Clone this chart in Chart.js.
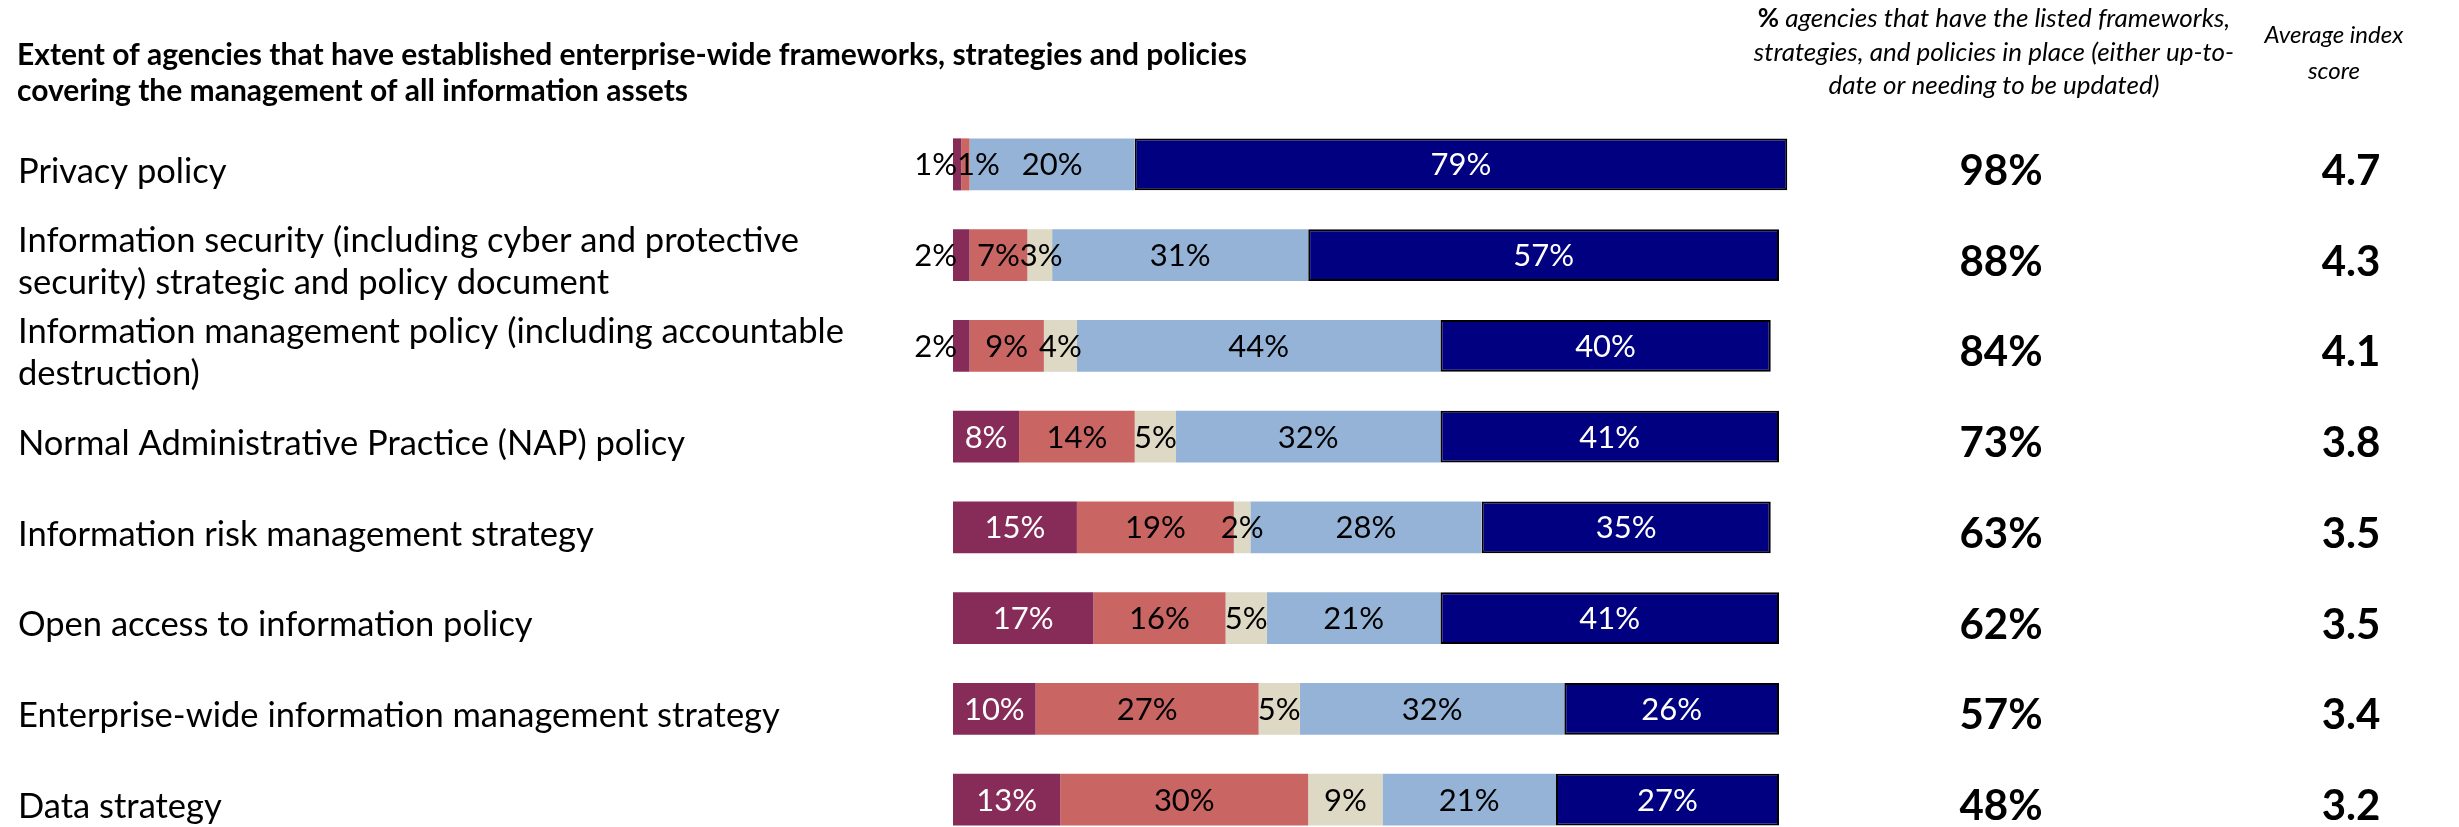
<!DOCTYPE html>
<html>
<head>
<meta charset="utf-8">
<script src="https://cdn.jsdelivr.net/npm/chart.js@4/dist/chart.umd.min.js"></script>
<style>
  html, body { margin: 0; padding: 0; background: #ffffff; overflow: hidden; }
  #wrap { position: relative; width: 2459px; height: 827px; overflow: hidden; }
  #c { position: absolute; left: 0; top: 0; }
</style>
</head>
<body>
<div id="wrap"><canvas id="c" width="2459" height="870"></canvas></div>
<script>
// Framework / policy categories, top to bottom
const categories = [
  'Privacy policy',
  ['Information security (including cyber and protective', 'security) strategic and policy document'],
  ['Information management policy (including accountable', 'destruction)'],
  'Normal Administrative Practice (NAP) policy',
  'Information risk management strategy',
  'Open access to information policy',
  'Enterprise-wide information management strategy',
  'Data strategy'
];

// Share of agencies at each maturity level (%)
const level1 = [1, 2, 2, 8, 15, 17, 10, 13];
const level2 = [1, 7, 9, 14, 19, 16, 27, 30];
const level3 = [0, 3, 4, 5, 2, 5, 5, 9];
const level4 = [20, 31, 44, 32, 28, 21, 32, 21];
const level5 = [79, 57, 40, 41, 35, 41, 26, 27];

// Summary columns
const inPlacePct = [98, 88, 84, 73, 63, 62, 57, 48];
const indexScore = [4.7, 4.3, 4.1, 3.8, 3.5, 3.5, 3.4, 3.2];

const titleLines = [
  'Extent of agencies that have established enterprise-wide frameworks, strategies and policies',
  'covering the management of all information assets'
];
const inPlaceHeader = [
  ['%', ' agencies that have the listed frameworks,'],
  ['', 'strategies, and policies in place (either up-to-'],
  ['', 'date or needing to be updated)']
];
const scoreHeader = ['Average index', 'score'];

const levelColors = ['#872B58', '#C96663', '#DDD9C4', '#95B3D7', '#000080'];
const labelColors = ['#FFFFFF', '#000000', '#000000', '#000000', '#FFFFFF'];
const FONT = 'Lato, "Open Sans", sans-serif';
const ROW_TEXT_SHIFT = 7;

// Percentage labels inside each bar segment
const segmentLabels = {
  id: 'segmentLabels',
  afterDatasetsDraw(chart) {
    const ctx = chart.ctx;
    ctx.save();
    ctx.font = '31px ' + FONT;
    ctx.textBaseline = 'middle';
    ctx.textAlign = 'center';
    for (let i = 0; i < categories.length; i++) {
      let prevRight = -Infinity;
      chart.data.datasets.forEach((ds, d) => {
        const v = ds.data[i];
        if (!v) return;
        const el = chart.getDatasetMeta(d).data[i];
        const left = Math.min(el.base, el.x);
        const right = Math.max(el.base, el.x);
        const txt = v + '%';
        const w = ctx.measureText(txt).width;
        const fits = w <= right - left;
        let cx = (left + right) / 2;
        // a label wider than the first segment hangs off the bar's left end
        if (!fits && d === 0) cx = left - w / 2 + 4;
        if (cx - w / 2 < prevRight) cx = prevRight + w / 2;
        ctx.fillStyle = fits ? labelColors[d] : '#000000';
        ctx.fillText(txt, cx, el.y + 1);
        prevRight = cx + w / 2;
      });
    }
    ctx.restore();
  }
};

// Title, summary headers and summary values
const sideText = {
  id: 'sideText',
  afterDraw(chart) {
    const ctx = chart.ctx;
    const y = chart.scales.y;
    ctx.save();
    ctx.fillStyle = '#000000';
    ctx.textBaseline = 'middle';

    ctx.font = 'bold 30px ' + FONT;
    ctx.textAlign = 'left';
    titleLines.forEach((t, k) => ctx.fillText(t, 17, 55 + k * 36));

    // centred header built from a bold part and an italic part
    const boldF = 'bold 26px ' + FONT, italF = 'italic 26px ' + FONT;
    inPlaceHeader.forEach((parts, k) => {
      ctx.font = boldF; const wb = ctx.measureText(parts[0]).width;
      ctx.font = italF; const wi = ctx.measureText(parts[1]).width;
      const x = 1994 - (wb + wi) / 2;
      ctx.textAlign = 'left';
      ctx.font = boldF; ctx.fillText(parts[0], x, 19 + k * 33.5);
      ctx.font = italF; ctx.fillText(parts[1], x + wb, 19 + k * 33.5);
    });
    ctx.textAlign = 'center';
    ctx.font = 'italic 24px ' + FONT;
    scoreHeader.forEach((t, k) => ctx.fillText(t, 2334, 35 + k * 36));

    ctx.font = 'bold 42px ' + FONT;
    for (let i = 0; i < categories.length; i++) {
      const py = y.getPixelForValue(i) + ROW_TEXT_SHIFT;
      ctx.fillText(inPlacePct[i] + '%', 2001, py);
      ctx.fillText(indexScore[i].toFixed(1), 2351, py);
    }
    ctx.restore();
  }
};

const levels = [level1, level2, level3, level4, level5];
const datasets = levels.map((vals, d) => ({
  label: 'Level ' + (d + 1),
  data: vals,
  backgroundColor: levelColors[d],
  borderColor: '#000000',
  borderWidth: d === 4 ? 2 : 0,
  borderSkipped: false,
  barPercentage: 0.573,
  categoryPercentage: 1.0,
  clip: false
}));

new Chart(document.getElementById('c'), {
  type: 'bar',
  data: { labels: categories, datasets },
  options: {
    indexAxis: 'y',
    responsive: false,
    animation: false,
    layout: { padding: { left: 18, right: 680, top: 119, bottom: 25 } },
    plugins: { legend: { display: false }, tooltip: { enabled: false }, title: { display: false } },
    scales: {
      x: { stacked: true, min: 0, max: 100, display: false },
      y: {
        stacked: true,
        grid: { display: false },
        border: { display: false },
        ticks: {
          crossAlign: 'far',
          color: '#000000',
          labelOffset: ROW_TEXT_SHIFT,
          font: { family: FONT, size: 34.5, lineHeight: '42px' }
        },
        afterFit(scale) { scale.width = 953 - 18; }
      }
    }
  },
  plugins: [segmentLabels, sideText]
});
</script>
</body>
</html>
